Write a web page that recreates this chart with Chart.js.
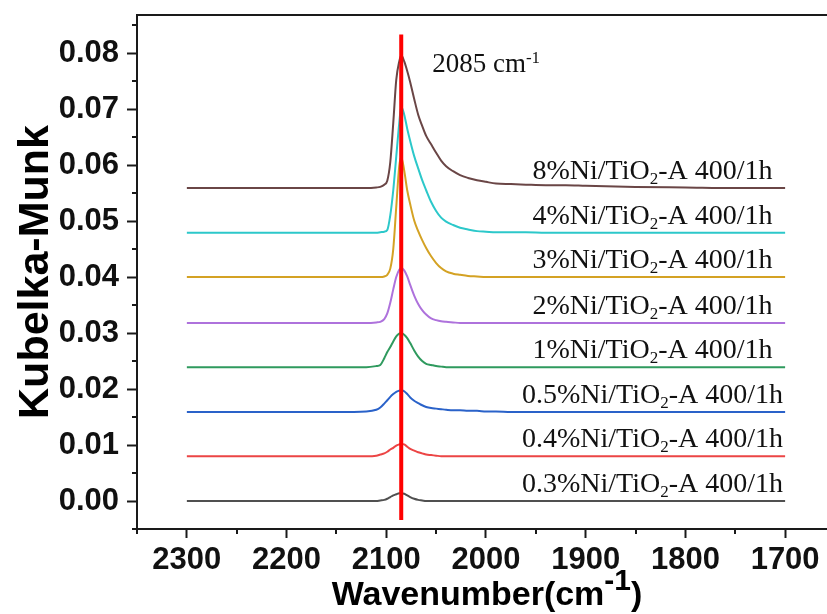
<!DOCTYPE html>
<html>
<head>
<meta charset="utf-8">
<script src="https://cdn.jsdelivr.net/npm/chart.js@4.4.1/dist/chart.umd.min.js"></script>
<style>
  html, body { margin: 0; padding: 0; background: #fff; overflow: hidden; }
  canvas { display: block; }
</style>
</head>
<body>
<canvas id="spectra" width="827" height="614"></canvas>
<script>
// Wavenumber grid shared by all spectra (cm-1, descending)
const wavenumbers = [2300, 2200, 2150, 2120, 2110, 2106, 2102, 2099, 2096, 2093,
                     2090, 2087, 2085, 2082, 2079, 2076, 2072, 2068, 2064, 2060,
                     2055, 2050, 2045, 2040, 2033, 2026, 2018, 2009, 2000, 1990,
                     1975, 1960, 1940, 1920, 1900, 1850, 1800, 1750, 1700];

// Kubelka-Munk values (stacked with offsets as in the figure)
const ni03 = [0.0000, 0.0000, 0.0000, 0.0000, 0.0000, 0.0001, 0.0002, 0.0004, 0.0007, 0.0010,
              0.0012, 0.0014, 0.0014, 0.0013, 0.0010, 0.0007, 0.0004, 0.0002, 0.0001, 0.0000,
              0.0000, 0.0000, 0.0000, 0.0000, 0.0000, 0.0000, 0.0000, 0.0000, 0.0000, 0.0000,
              0.0000, 0.0000, 0.0000, 0.0000, 0.0000, 0.0000, 0.0000, 0.0000, 0.0000];
const ni04 = [0.0080, 0.0080, 0.0080, 0.0080, 0.0081, 0.0083, 0.0085, 0.0088, 0.0092, 0.0095,
              0.0099, 0.0101, 0.0102, 0.0101, 0.0097, 0.0093, 0.0090, 0.0087, 0.0085, 0.0083,
              0.0082, 0.0081, 0.0080, 0.0080, 0.0080, 0.0080, 0.0080, 0.0080, 0.0080, 0.0080,
              0.0080, 0.0080, 0.0080, 0.0080, 0.0080, 0.0080, 0.0080, 0.0080, 0.0080];
const ni05 = [0.0159, 0.0159, 0.0159, 0.0160, 0.0163, 0.0167, 0.0174, 0.0180, 0.0186, 0.0191,
              0.0195, 0.0197, 0.0198, 0.0196, 0.0191, 0.0185, 0.0179, 0.0175, 0.0171, 0.0168,
              0.0166, 0.0165, 0.0164, 0.0163, 0.0162, 0.0162, 0.0161, 0.0161, 0.0160, 0.0160,
              0.0159, 0.0159, 0.0159, 0.0159, 0.0159, 0.0159, 0.0159, 0.0159, 0.0159];
const ni1 = [0.0239, 0.0239, 0.0239, 0.0239, 0.0241, 0.0243, 0.0255, 0.0266, 0.0275, 0.0285,
             0.0294, 0.0299, 0.0300, 0.0297, 0.0291, 0.0282, 0.0269, 0.0258, 0.0250, 0.0245,
             0.0243, 0.0241, 0.0240, 0.0239, 0.0239, 0.0239, 0.0239, 0.0239, 0.0239, 0.0239,
             0.0239, 0.0239, 0.0239, 0.0239, 0.0239, 0.0239, 0.0239, 0.0239, 0.0239];
const ni2 = [0.0318, 0.0318, 0.0318, 0.0318, 0.0319, 0.0320, 0.0325, 0.0335, 0.0354, 0.0378,
             0.0400, 0.0413, 0.0416, 0.0412, 0.0401, 0.0386, 0.0367, 0.0352, 0.0341, 0.0333,
             0.0326, 0.0323, 0.0321, 0.0320, 0.0319, 0.0318, 0.0318, 0.0318, 0.0318, 0.0318,
             0.0318, 0.0318, 0.0318, 0.0318, 0.0318, 0.0318, 0.0318, 0.0318, 0.0318];
const ni3 = [0.0400, 0.0400, 0.0400, 0.0400, 0.0400, 0.0400, 0.0401, 0.0404, 0.0415, 0.0450,
             0.0525, 0.0598, 0.0614, 0.0590, 0.0555, 0.0530, 0.0501, 0.0482, 0.0466, 0.0452,
             0.0437, 0.0425, 0.0416, 0.0410, 0.0406, 0.0404, 0.0402, 0.0401, 0.0400, 0.0400,
             0.0400, 0.0400, 0.0400, 0.0400, 0.0400, 0.0400, 0.0400, 0.0400, 0.0400];
const ni4 = [0.0479, 0.0479, 0.0479, 0.0479, 0.0479, 0.0480, 0.0481, 0.0484, 0.0510, 0.0555,
             0.0615, 0.0675, 0.0704, 0.0690, 0.0665, 0.0643, 0.0616, 0.0594, 0.0573, 0.0555,
             0.0534, 0.0518, 0.0506, 0.0499, 0.0493, 0.0488, 0.0485, 0.0482, 0.0481, 0.0480,
             0.0480, 0.0480, 0.0479, 0.0479, 0.0479, 0.0479, 0.0479, 0.0479, 0.0479];
const ni8 = [0.0559, 0.0559, 0.0559, 0.0559, 0.0560, 0.0561, 0.0565, 0.0572, 0.0605, 0.0675,
             0.0752, 0.0785, 0.0796, 0.0785, 0.0768, 0.0748, 0.0718, 0.0690, 0.0670, 0.0652,
             0.0637, 0.0622, 0.0608, 0.0598, 0.0589, 0.0582, 0.0577, 0.0573, 0.0570, 0.0567,
             0.0566, 0.0565, 0.0564, 0.0564, 0.0563, 0.0561, 0.0560, 0.0559, 0.0559];

const sampleNames = ['0.3%', '0.4%', '0.5%', '1%', '2%', '3%', '4%', '8%'];
const seriesValues = [ni03, ni04, ni05, ni1, ni2, ni3, ni4, ni8];

// Ticks
const xTickValues = [2300, 2200, 2100, 2000, 1900, 1800, 1700];
const xMinorTicks = [2350, 2250, 2150, 2050, 1950, 1850, 1750];
const yTickValues = [0, 0.01, 0.02, 0.03, 0.04, 0.05, 0.06, 0.07, 0.08];
const yMinorTicks = [-0.005, 0.005, 0.015, 0.025, 0.035, 0.045, 0.055, 0.065, 0.075, 0.085];

// Marker line at the CO band
const peakPosition = 2085;
const peakLineRange = [0.0833, -0.0034];

// Colors
const seriesColors = ['#505050', '#EC4545', '#2A62C9', '#2F9A5E', '#AE72DC', '#D4A224', '#2CC8CA', '#6A4646'];
const axisColor = '#1a1a1a';

// Draw a run of text pieces (for sub/superscripts), starting at x
function drawParts(ctx, parts, x, y, align) {
    let total = 0;
    parts.forEach(p => { ctx.font = p.font; total += ctx.measureText(p.text).width; });
    let cx = align === 'center' ? x - total / 2 : x;
    parts.forEach(p => {
        ctx.font = p.font;
        ctx.fillText(p.text, cx, y + (p.dy || 0));
        cx += ctx.measureText(p.text).width;
    });
}

const decorations = {
    id: 'decorations',
    afterDraw(chart) {
        const { ctx, chartArea, scales: { x, y } } = chart;
        ctx.save();
        ctx.strokeStyle = axisColor;
        ctx.lineWidth = 2;

        // top frame line
        ctx.beginPath();
        ctx.moveTo(chartArea.left - 1, chartArea.top);
        ctx.lineTo(chartArea.right, chartArea.top);
        ctx.stroke();

        // minor ticks
        ctx.beginPath();
        xMinorTicks.forEach(v => {
            const px = Math.round(x.getPixelForValue(v));
            ctx.moveTo(px, chartArea.bottom);
            ctx.lineTo(px, chartArea.bottom + 5);
        });
        yMinorTicks.forEach(v => {
            const py = Math.round(y.getPixelForValue(v));
            ctx.moveTo(chartArea.left, py);
            ctx.lineTo(chartArea.left - 5, py);
        });
        ctx.stroke();

        ctx.fillStyle = '#111';
        ctx.textBaseline = 'alphabetic';

        // peak label
        drawParts(ctx, [
            { text: peakPosition + ' cm', font: '27px "Liberation Serif"' },
            { text: '-1', font: '17px "Liberation Serif"', dy: -9 }
        ], x.getPixelForValue(2054), y.getPixelForValue(0.0766), 'left');

        // sample labels above each baseline
        const labelX = x.getPixelForValue(1833);
        seriesValues.forEach((vals, i) => {
            const by = y.getPixelForValue(vals[0]) - 9;
            drawParts(ctx, [
                { text: sampleNames[i] + 'Ni/TiO', font: '28px "Liberation Serif"' },
                { text: '2', font: '17px "Liberation Serif"', dy: 5 },
                { text: '-A 400/1h', font: '28px "Liberation Serif"' }
            ], labelX, by, 'center');
        });

        // axis titles
        ctx.fillStyle = '#000';
        drawParts(ctx, [
            { text: 'Wavenumber(cm', font: 'bold 34px "Liberation Sans"' },
            { text: '-1', font: 'bold 30px "Liberation Sans"', dy: -15 },
            { text: ')', font: 'bold 34px "Liberation Sans"' }
        ], (chartArea.left + chartArea.right) / 2 + 5, 605, 'center');

        ctx.translate(48, (chartArea.top + chartArea.bottom) / 2);
        ctx.rotate(-Math.PI / 2);
        ctx.font = 'bold 43px "Liberation Sans"';
        ctx.textAlign = 'center';
        ctx.fillText('Kubelka-Munk', 0, 0);
        ctx.restore();
    }
};

const datasets = [{
    label: 'peak',
    data: peakLineRange.map(v => ({ x: peakPosition, y: v })),
    borderColor: '#FF0000',
    borderWidth: 4,
    pointRadius: 0,
    order: 0
}];
seriesValues.forEach((vals, i) => {
    datasets.push({
        label: sampleNames[i],
        data: wavenumbers.map((w, j) => ({ x: w, y: vals[j] })),
        borderColor: seriesColors[i],
        borderWidth: 2,
        pointRadius: 0,
        cubicInterpolationMode: 'monotone',
        order: 1
    });
});

const tickFont = { family: 'Liberation Sans', size: 31, weight: 'bold' };

new Chart(document.getElementById('spectra').getContext('2d'), {
    type: 'line',
    data: { datasets: datasets },
    options: {
        responsive: false,
        animation: false,
        devicePixelRatio: 1,
        layout: { padding: { top: 15, left: 0, right: 0, bottom: 0 } },
        plugins: {
            legend: { display: false },
            tooltip: { enabled: false }
        },
        scales: {
            x: {
                type: 'linear',
                reverse: true,
                min: 1658,
                max: 2350,
                afterBuildTicks: s => { s.ticks = xTickValues.map(v => ({ value: v })); },
                afterFit: s => { s.height = 85; s.paddingLeft = 0; s.paddingRight = 0; },
                border: { display: true, color: axisColor, width: 2 },
                grid: { drawOnChartArea: false, drawTicks: true, tickLength: 9, tickWidth: 2, tickColor: axisColor },
                ticks: {
                    font: tickFont,
                    color: '#111',
                    padding: 4,
                    maxRotation: 0,
                    autoSkip: false,
                    callback: v => String(v)
                }
            },
            y: {
                min: -0.005,
                max: 0.0868,
                afterBuildTicks: s => { s.ticks = yTickValues.map(v => ({ value: v })); },
                afterFit: s => { s.width = 137; s.paddingTop = 0; s.paddingBottom = 0; },
                border: { display: true, color: axisColor, width: 2 },
                grid: { drawOnChartArea: false, drawTicks: true, tickLength: 10, tickWidth: 2, tickColor: axisColor },
                ticks: {
                    font: tickFont,
                    color: '#111',
                    padding: 8,
                    callback: v => v.toFixed(2)
                }
            }
        }
    },
    plugins: [decorations]
});
</script>
</body>
</html>
